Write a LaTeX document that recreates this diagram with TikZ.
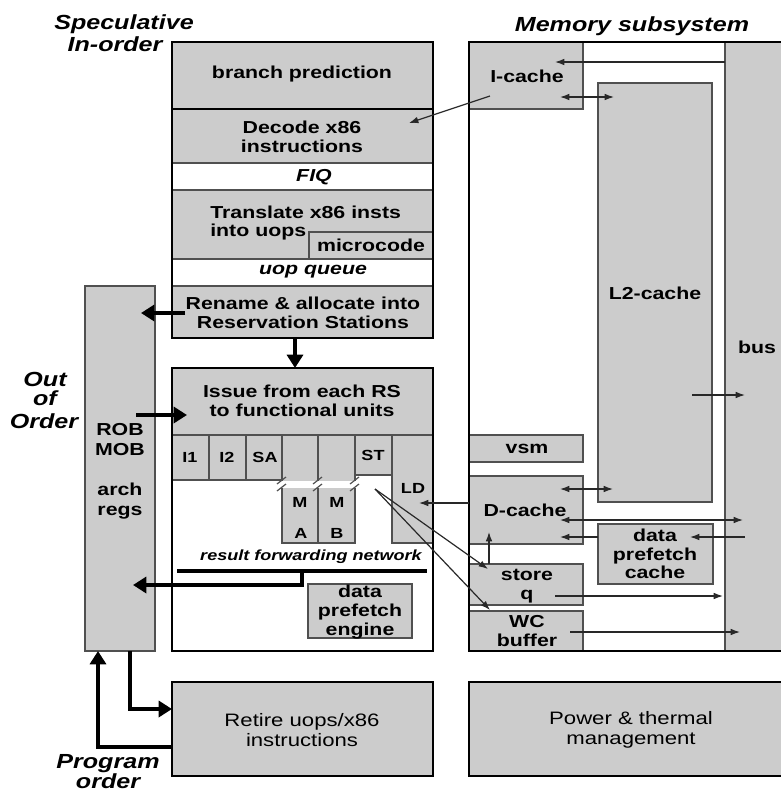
\documentclass[tikz,border=0pt]{standalone}
\usepackage{fontspec}
\setmainfont[FakeStretch=1.23]{Liberation Sans}
\usetikzlibrary{arrows.meta,fit}
\definecolor{boxgray}{RGB}{204,204,204}
\definecolor{bord}{RGB}{80,80,80}
\definecolor{arr}{RGB}{40,40,40}
\begin{document}
\begin{tikzpicture}[x=0.75pt,y=-0.75pt,
  gbox/.style={draw=bord, fill=boxgray, line width=1.1pt, inner sep=0pt},
  wbox/.style={draw=bord, fill=white, line width=1.1pt, inner sep=0pt},
  outer/.style={draw=black, line width=2pt},
  lbl/.style={font=\fontsize{13}{14}\selectfont\bfseries, align=center, inner sep=0pt},
  fu/.style={font=\fontsize{11}{12}\selectfont\bfseries, align=center, inner sep=0pt},
  ilbl/.style={font=\fontsize{13}{14}\selectfont\bfseries\itshape, align=center, inner sep=0pt},
  big/.style={font=\fontsize{15.3}{16}\selectfont\bfseries\itshape, align=center, inner sep=0pt},
  reg/.style={font=\fontsize{13.5}{14.5}\selectfont, align=center, inner sep=0pt},
  tarrow/.style={draw=arr, line width=0.9pt, -{Latex[length=7pt,width=5pt]}},
  tboth/.style={draw=arr, line width=0.9pt, {Latex[length=7pt,width=5pt]}-{Latex[length=7pt,width=5pt]}},
  bigarrow/.style={draw=black, line width=3pt, -{Triangle[length=10pt,width=12pt]}},
]
\useasboundingbox (0,0) rectangle (781,794);

% ---------- speculative in-order block ----------
\node[gbox, fit={(172,42) (433,109)}] (bp) {};
\node[lbl] (bpt) at (302,74) {branch prediction};
\node[gbox, fit={(172,109) (433,163)}] (dec) {};
\node[lbl] (dect) at (302,137) {Decode x86\\instructions};
\node[wbox, fit={(172,163) (433,190)}] (fiq) {};
\node[ilbl] (fiqt) at (314,177) {FIQ};
\node[gbox, fit={(172,190) (433,259)}] (tr) {};
\node[lbl, anchor=west, align=left] (trt) at (210,223) {Translate x86 insts\\into uops};
\node[gbox, fit={(309,232) (433,259)}] (mc) {};
\node[lbl] (mct) at (371,245) {microcode};
\node[wbox, fit={(172,259) (433,286)}] (uq) {};
\node[ilbl] (uqt) at (313,272) {uop queue};
\node[gbox, fit={(172,286) (433,338)}] (ren) {};
\node[lbl] (rent) at (303,313) {Rename \& allocate into\\Reservation Stations};
\draw[outer] (172,42) rectangle (433,338);
\draw[outer] (172,109) -- (433,109);

% ---------- issue block ----------
\node[wbox, draw=none, fit={(172,368) (433,651)}] (iss) {};
\node[gbox, fit={(172,368) (433,435)}] (ish) {};
\node[lbl] (isht) at (302,401) {Issue from each RS\\to functional units};
\node[gbox, fit={(172,435) (209,480)}] (i1) {};
\node[gbox, fit={(209,435) (246,480)}] (i2) {};
\node[gbox, fit={(246,435) (282,480)}] (sa) {};
\node[gbox, fit={(282,435) (318,543)}] (ma) {};
\node[gbox, fit={(318,435) (355,543)}] (mb) {};
\node[gbox, fit={(355,435) (392,475)}] (st) {};
\node[gbox, fit={(392,435) (433,543)}] (ld) {};
\node[fu] (i1t) at (190,457) {I1};
\node[fu] (i2t) at (227,457) {I2};
\node[fu] (sat) at (265,457) {SA};
\node[fu] (stt) at (373,455) {ST};
\node[fu] (ldt) at (413,488) {LD};
\fill[white] (279,481) rectangle (359,488);
\foreach \x in {282,318,355}{
  \draw[bord, line width=0.9pt] (\x-5,484) -- (\x+4,477);
  \draw[bord, line width=0.9pt] (\x-5,491) -- (\x+4,484);
}
\node[fu] (mam) at (300,502) {M};
\node[fu] (maa) at (301,533) {A};
\node[fu] (mbm) at (337,502) {M};
\node[fu] (mbb) at (337,533) {B};
\node[font=\fontsize{11}{12}\selectfont\bfseries\itshape, inner sep=0pt] (rfn) at (311,557) {result forwarding network};
\node[gbox, fit={(308,584) (412,638)}] (dpe) {};
\node[lbl] (dpet) at (360,612) {data\\prefetch\\engine};
\draw[outer] (172,368) rectangle (433,651);

% ---------- ROB column ----------
\node[gbox, fit={(85,286) (155,651)}] (rob) {};
\node[font=\fontsize{13}{15}\selectfont\bfseries, align=center, inner sep=0pt] (robt) at (120,471) {ROB\\MOB\\[15pt]arch\\regs};

% ---------- memory subsystem ----------
\node[gbox, fit={(725,42) (800,651)}] (bus) {};
\node[lbl] (bust) at (757,347) {bus};
\node[gbox, fit={(469,42) (583,109)}] (ic) {};
\node[lbl] (ict) at (527,76) {I-cache};
\node[gbox, fit={(598,83) (712,502)}] (l2) {};
\node[lbl] (l2t) at (655,293) {L2-cache};
\node[gbox, fit={(469,435) (583,462)}] (vsm) {};
\node[lbl] (vsmt) at (527,449) {vsm};
\node[gbox, fit={(469,476) (583,544)}] (dc) {};
\node[lbl] (dct) at (525,510) {D-cache};
\node[gbox, fit={(469,564) (583,605)}] (sq) {};
\node[lbl] (sqt) at (527,586) {store\\q};
\node[gbox, fit={(469,611) (583,651)}] (wc) {};
\node[lbl] (wct) at (527,631) {WC\\buffer};
\node[gbox, fit={(598,524) (713,584)}] (dpc) {};
\node[lbl] (dpct) at (655,554) {data\\prefetch\\cache};
\draw[outer] (469,42) rectangle (800,651);

% ---------- bottom blocks ----------
\node[gbox, outer, fit={(172,682) (433,776)}] (ret) {};
\node[reg] (rett) at (302,730) {Retire uops/x86\\instructions};
\node[gbox, outer, fit={(469,682) (800,776)}] (pwr) {};
\node[reg] (pwrt) at (631,730) {Power \& thermal\\management};

% ---------- titles ----------
\node[big] (t1) at (124,24) {Speculative};
\node[big] (t2) at (115,44) {In-order};
\node[big] (t3) at (632,26) {Memory subsystem};
\node[big] (t4) at (45,379) {Out};
\node[big] (t5) at (45,398) {of};
\node[big] (t6) at (44,421) {Order};
\node[big] (t7) at (108,764) {Program};
\node[big] (t8) at (108,781) {order};

% ---------- connector end points ----------
\coordinate (busIc) at (725,62);   \coordinate (icIn) at (555,62);
\coordinate (icL2a) at (560,97);   \coordinate (icL2b) at (614,97);
\coordinate (icOut) at (490,96);   \coordinate (decIn) at (409,123);
\coordinate (l2Out) at (692,395);  \coordinate (busL2) at (745,395);
\coordinate (dcL2a) at (560,489);  \coordinate (dcL2b) at (613,489);
\coordinate (dcBa) at (560,520);   \coordinate (dcBb) at (743,520);
\coordinate (dpcOut) at (598,537); \coordinate (dcIn) at (560,537);
\coordinate (busDp) at (745,537);  \coordinate (dpcIn) at (690,537);
\coordinate (dcLd) at (469,503);   \coordinate (ldIn) at (419,503);
\coordinate (sqUp) at (489,564);   \coordinate (dcBot) at (489,532);
\coordinate (sqOut) at (555,596);  \coordinate (busSq) at (723,596);
\coordinate (wcOut) at (570,632);  \coordinate (busWc) at (740,632);
\coordinate (stOut) at (375,489);  \coordinate (sqIn) at (488,569);
\coordinate (wcIn) at (490,610);
\coordinate (renOut) at (185,313); \coordinate (robIn1) at (141,313);
\coordinate (renDown) at (295,338); \coordinate (issIn) at (295,368);
\coordinate (robOut) at (136,415); \coordinate (ishIn) at (187,415);
\coordinate (fwdL) at (177,571);   \coordinate (fwdR) at (427,571);
\coordinate (fwdM) at (302,571);   \coordinate (fwdK) at (302,585);
\coordinate (robIn2) at (133,585);
\coordinate (robBot1) at (130,651); \coordinate (retK) at (130,709);
\coordinate (retIn) at (172,709);
\coordinate (retOut) at (172,747); \coordinate (progK) at (98,747);
\coordinate (robBot2) at (98,651);

% ---------- thin connectors ----------
\draw[tarrow] (busIc) -- (icIn);
\draw[tboth] (icL2a) -- (icL2b);
\draw[tarrow] (icOut) -- (decIn);
\draw[tarrow] (l2Out) -- (busL2);
\draw[tboth] (dcL2a) -- (dcL2b);
\draw[tboth] (dcBa) -- (dcBb);
\draw[tarrow] (dpcOut) -- (dcIn);
\draw[tarrow] (busDp) -- (dpcIn);
\draw[tarrow] (dcLd) -- (ldIn);
\draw[tarrow] (sqUp) -- (dcBot);
\draw[tarrow] (sqOut) -- (busSq);
\draw[tarrow] (wcOut) -- (busWc);
\draw[tarrow] (stOut) -- (sqIn);
\draw[tarrow] (stOut) -- (wcIn);

% ---------- thick connectors ----------
\draw[bigarrow] (renOut) -- (robIn1);
\draw[bigarrow] (renDown) -- (issIn);
\draw[bigarrow] (robOut) -- (ishIn);
\draw[line width=3pt] (fwdL) -- (fwdR);
\draw[bigarrow] (fwdM) -- (fwdK) -- (robIn2);
\draw[bigarrow] (robBot1) -- (retK) -- (retIn);
\draw[bigarrow] (retOut) -- (progK) -- (robBot2);
\end{tikzpicture}
\end{document}
